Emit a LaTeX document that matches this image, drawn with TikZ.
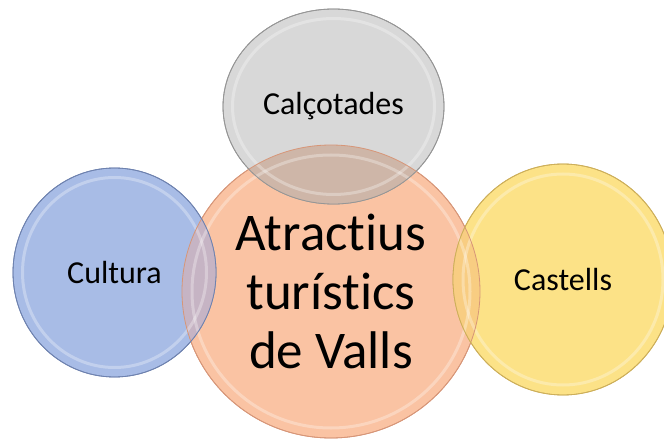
\documentclass[tikz,border=0pt]{standalone}
\usepackage{fontspec}
\setmainfont{Carlito}[RawFeature={-liga;-dlig}]
\usetikzlibrary{shapes.geometric}
\definecolor{grayfill}{RGB}{216,216,216}
\definecolor{grayline}{RGB}{150,150,150}
\definecolor{orangefill}{RGB}{250,195,163}
\definecolor{orangeline}{RGB}{215,150,120}
\definecolor{bluefill}{RGB}{168,188,230}
\definecolor{blueline}{RGB}{110,130,175}
\definecolor{yellowfill}{RGB}{252,226,135}
\definecolor{yellowline}{RGB}{205,175,90}
\definecolor{grayover}{RGB}{206,182,168}
\definecolor{blueover}{RGB}{198,180,196}
\definecolor{yellowover}{RGB}{248,205,130}
\tikzset{
  x=1pt,y=-1pt,
  bubble/.style={ellipse, inner sep=0pt, line width=0.8pt, text=black},
  label/.style={font=\fontsize{32}{36}\selectfont},
  bigtext/.style={font=\fontsize{53}{59}\selectfont, align=center},
  ring/.style={draw=white, line width=3pt, draw opacity=0.3}
}
\begin{document}
\begin{tikzpicture}
\useasboundingbox (0,0) rectangle (664,441);
% orange centre
\node[bubble, fill=orangefill, draw=orangeline, minimum width=298pt, minimum height=293pt] (main) at (331,291.5) {};
% blue
\node[bubble, fill=bluefill, draw=blueline, minimum width=203pt, minimum height=209pt] (cult) at (114.5,272.5) {};
% yellow
\node[bubble, fill=yellowfill, draw=yellowline, minimum width=220pt, minimum height=231pt] (cast) at (563,279.5) {};
% gray
\node[bubble, fill=grayfill, draw=grayline, minimum width=221pt, minimum height=195pt] (calc) at (333.5,106.5) {};
% overlaps
\begin{scope}
  \clip (331,291.5) ellipse [x radius=149, y radius=146.5];
  \fill[grayover] (333.5,106.5) ellipse [x radius=110.5, y radius=97.5];
  \fill[blueover] (114.5,272.5) ellipse [x radius=101.5, y radius=104.5];
  \fill[yellowover] (563,279.5) ellipse [x radius=110, y radius=115.5];
\end{scope}
% inner bevel rings
\draw[ring] (331,291.5) ellipse [x radius=139, y radius=136.5];
\draw[ring] (114.5,272.5) ellipse [x radius=92, y radius=95];
\draw[ring] (563,279.5) ellipse [x radius=100, y radius=105.5];
\draw[ring] (333.5,106.5) ellipse [x radius=101, y radius=88];
% outlines on top
\draw[orangeline, line width=0.8pt] (331,291.5) ellipse [x radius=149, y radius=146.5];
\draw[blueline, line width=0.8pt] (114.5,272.5) ellipse [x radius=101.5, y radius=104.5];
\draw[yellowline, line width=0.8pt] (563,279.5) ellipse [x radius=110, y radius=115.5];
\draw[grayline, line width=0.8pt] (333.5,106.5) ellipse [x radius=110.5, y radius=97.5];
% texts
\node[bigtext] at (main.center) {Atractius\\turístics\\de Valls};
\node[label] at (calc.center) {Calçotades};
\node[label] at (cult.center) {Cultura};
\node[label] at (cast.center) {Castells};
\end{tikzpicture}
\end{document}
